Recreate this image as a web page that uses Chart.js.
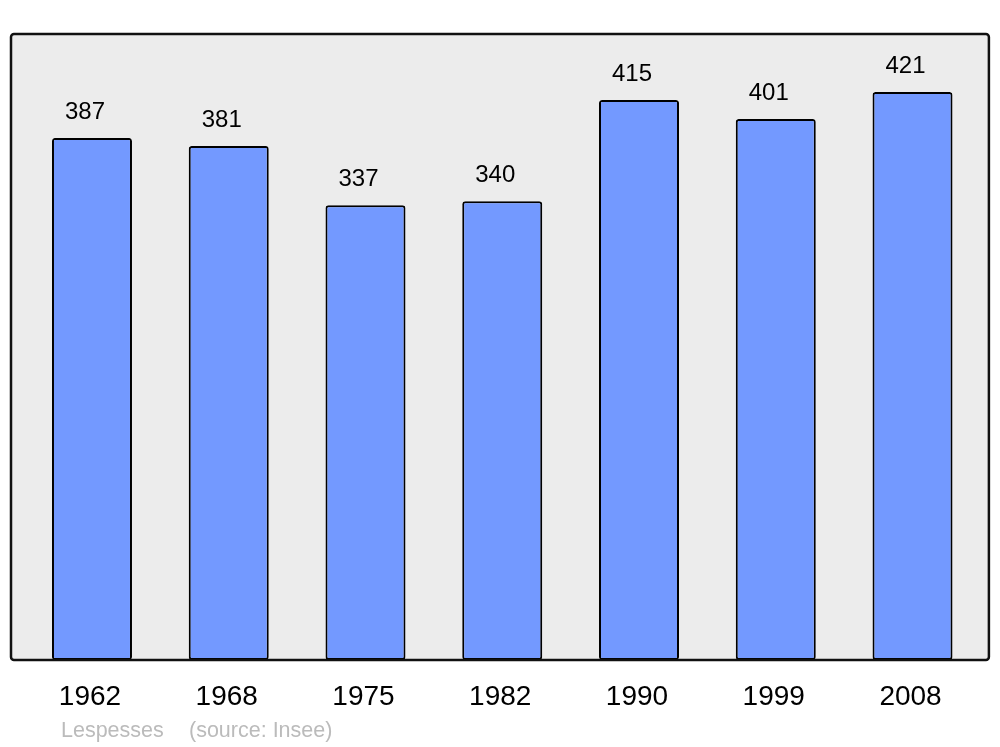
<!DOCTYPE html>
<html>
<head>
<meta charset="utf-8">
<script src="https://cdn.jsdelivr.net/npm/chart.js@4/dist/chart.umd.min.js"></script>
<style>
  html, body { margin: 0; padding: 0; background: #fff; }
  #wrap { width: 1000px; height: 747px; }
</style>
</head>
<body>
<div id="wrap"><canvas id="myChart"></canvas></div>
<script>
// data
const years = ["1962", "1968", "1975", "1982", "1990", "1999", "2008"];
const population = [387, 381, 337, 340, 415, 401, 421];
const place = "Lespesses";
const source = "(source: Insee)";

const FONT = "'Liberation Sans', Arial, sans-serif";

// frame, value labels, year labels, source
const decor = {
  id: "decor",
  beforeDatasetsDraw(chart) {
    const { ctx, chartArea: a } = chart;
    ctx.save();
    ctx.fillStyle = "#ececec";
    ctx.beginPath();
    ctx.roundRect(a.left - 12.6, a.top, a.right - a.left + 20.6, a.bottom - a.top, 3);
    ctx.fill();
    ctx.restore();
  },
  afterDatasetsDraw(chart) {
    const { ctx, chartArea: a } = chart;
    const xs = chart.scales.x;
    ctx.save();
    ctx.strokeStyle = "#111";
    ctx.lineWidth = 2.5;
    ctx.beginPath();
    ctx.roundRect(a.left - 12.6, a.top, a.right - a.left + 20.6, a.bottom - a.top, 3);
    ctx.stroke();

    ctx.fillStyle = "#000";
    ctx.textAlign = "center";
    ctx.textBaseline = "alphabetic";
    ctx.font = "24px " + FONT;
    chart.getDatasetMeta(0).data.forEach((bar, i) => {
      ctx.fillText(String(population[i]), bar.x - 7, bar.y - 19);
    });

    ctx.font = "28px " + FONT;
    years.forEach((y, i) => {
      ctx.fillText(y, xs.getPixelForValue(i) - 2, a.bottom + 45);
    });

    ctx.textAlign = "left";
    ctx.fillStyle = "#bbbbbb";
    ctx.font = "21.5px " + FONT;
    ctx.fillText(place, 61, a.bottom + 77);
    ctx.fillText(source, 189, a.bottom + 77);
    ctx.restore();
  }
};

const config = {
  type: "bar",
  data: {
    labels: years,
    datasets: [{
      data: population,
      backgroundColor: "#7399ff",
      borderColor: "#000",
      borderWidth: 2,
      borderRadius: 3,
      borderSkipped: false,
      categoryPercentage: 1,
      barPercentage: 0.585
    }]
  },
  options: {
    responsive: true,
    maintainAspectRatio: false,
    animation: false,
    layout: { padding: { left: 23.6, right: 19.1, top: 34, bottom: 87 } },
    plugins: { legend: { display: false }, tooltip: { enabled: false } },
    scales: {
      x: { display: false },
      y: { display: false, min: 0, max: 464 }
    }
  },
  plugins: [decor]
};

var myChart = new Chart(document.getElementById("myChart"), config);
</script>
</body>
</html>
